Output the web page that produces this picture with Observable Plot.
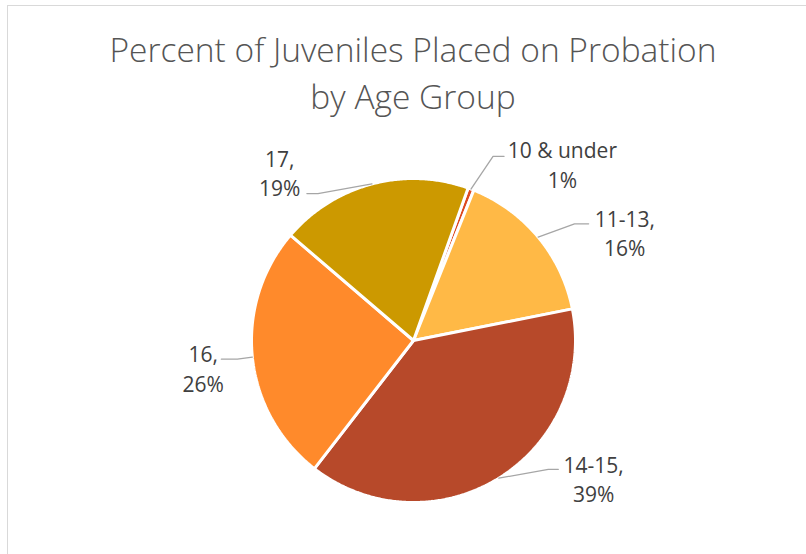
<!DOCTYPE html>
<html><head><meta charset="utf-8">
<script src="https://cdn.jsdelivr.net/npm/d3@7"></script>
<script src="https://cdn.jsdelivr.net/npm/@observablehq/plot@0.6"></script>
<style>
body{margin:0;background:#fff;}
#wrap{position:relative;width:806px;height:554px;overflow:hidden;font-family:"Open Sans",sans-serif;}
#frame{position:absolute;left:7px;top:5px;width:900px;height:700px;border:1px solid #d9d9d9;box-sizing:border-box;}
#title{position:absolute;left:0;top:26px;width:826px;text-align:center;color:#555555;font-size:33.5px;line-height:47px;font-weight:300;margin:0;}
#chart{position:absolute;left:0;top:120px;}
</style></head><body>
<div id="wrap"><div id="frame"></div><h1 id="title">Percent of Juveniles Placed on Probation<br>by Age Group</h1><div id="chart"></div></div>
<script>
// ---- data ----
const categories = ["10 & under", "11-13", "14-15", "16", "17"];
const percents = [0.6, 15.8, 38.6, 25.8, 19.2];
const separators = ["", ",", ",", ",", ","];
const colors = ["#DD4A1F", "#FFB946", "#B7492A", "#FF8A2B", "#CC9900"];

// ---- layout (unit-radius coordinates) ----
const firstSliceAngle = 19.7; // degrees, clockwise from 12 o'clock
const labelX = [0.919, 1.304, 1.112, -1.298, -0.826];
const labelY = [1.093, 0.671, -0.851, -0.168, 1.040];
const elbowX = [0.491, 0.994, 0.832, -1.087, -0.590];
const endX = [0.559, 1.081, 0.894, -1.186, -0.658];
const leaderY = [1.137, 0.720, -0.795, -0.115, 0.907];

const cx = 413, cyPage = 340, R = 162, svgTop = 120;
const cy = cyPage - svgTop;

const a0 = firstSliceAngle * Math.PI / 180;
const arcs = d3.pie().sort(null).startAngle(a0).endAngle(a0 + 2 * Math.PI)(percents);

const slicePts = [];
arcs.forEach((a, i) => {
  const cat = categories[i];
  slicePts.push({category: cat, x: 0, y: 0});
  const n = Math.max(2, Math.ceil((a.endAngle - a.startAngle) / (Math.PI / 360)));
  for (let k = 0; k <= n; k++) {
    const t = a.startAngle + (a.endAngle - a.startAngle) * k / n;
    slicePts.push({category: cat, x: Math.sin(t), y: Math.cos(t)});
  }
});

const leaderPts = [];
arcs.forEach((a, i) => {
  const m = (a.startAngle + a.endAngle) / 2;
  const cat = categories[i];
  leaderPts.push({category: cat, x: Math.sin(m), y: Math.cos(m)});
  leaderPts.push({category: cat, x: elbowX[i], y: leaderY[i]});
  leaderPts.push({category: cat, x: endX[i], y: leaderY[i]});
});

const labels = categories.map((c, i) => ({
  category: c, x: labelX[i], y: labelY[i],
  text: `${c}${separators[i]}\n${Math.round(percents[i])}%`
}));

const chart = Plot.plot({
  width: 806, height: 554 - svgTop,
  margin: 0,
  x: {type: "linear", domain: [-1, 1], range: [cx - R, cx + R], axis: null},
  y: {type: "linear", domain: [-1, 1], range: [cy + R, cy - R], axis: null},
  color: {domain: categories, range: colors},
  style: {fontFamily: "'Open Sans', sans-serif", background: "transparent", overflow: "visible"},
  marks: [
    Plot.line(slicePts, {x: "x", y: "y", z: "category", fill: "category", stroke: "white", strokeWidth: 3, curve: "linear-closed", strokeLinejoin: "miter"}),
    Plot.line(leaderPts, {x: "x", y: "y", z: "category", stroke: "#A6A6A6", strokeWidth: 1.3}),
    Plot.text(labels, {x: "x", y: "y", text: "text", fontSize: 21, lineHeight: 1.4, fill: "#404040", textAnchor: "middle", lineAnchor: "middle"})
  ]
});
document.getElementById("chart").appendChild(chart);
</script>
</body></html>
